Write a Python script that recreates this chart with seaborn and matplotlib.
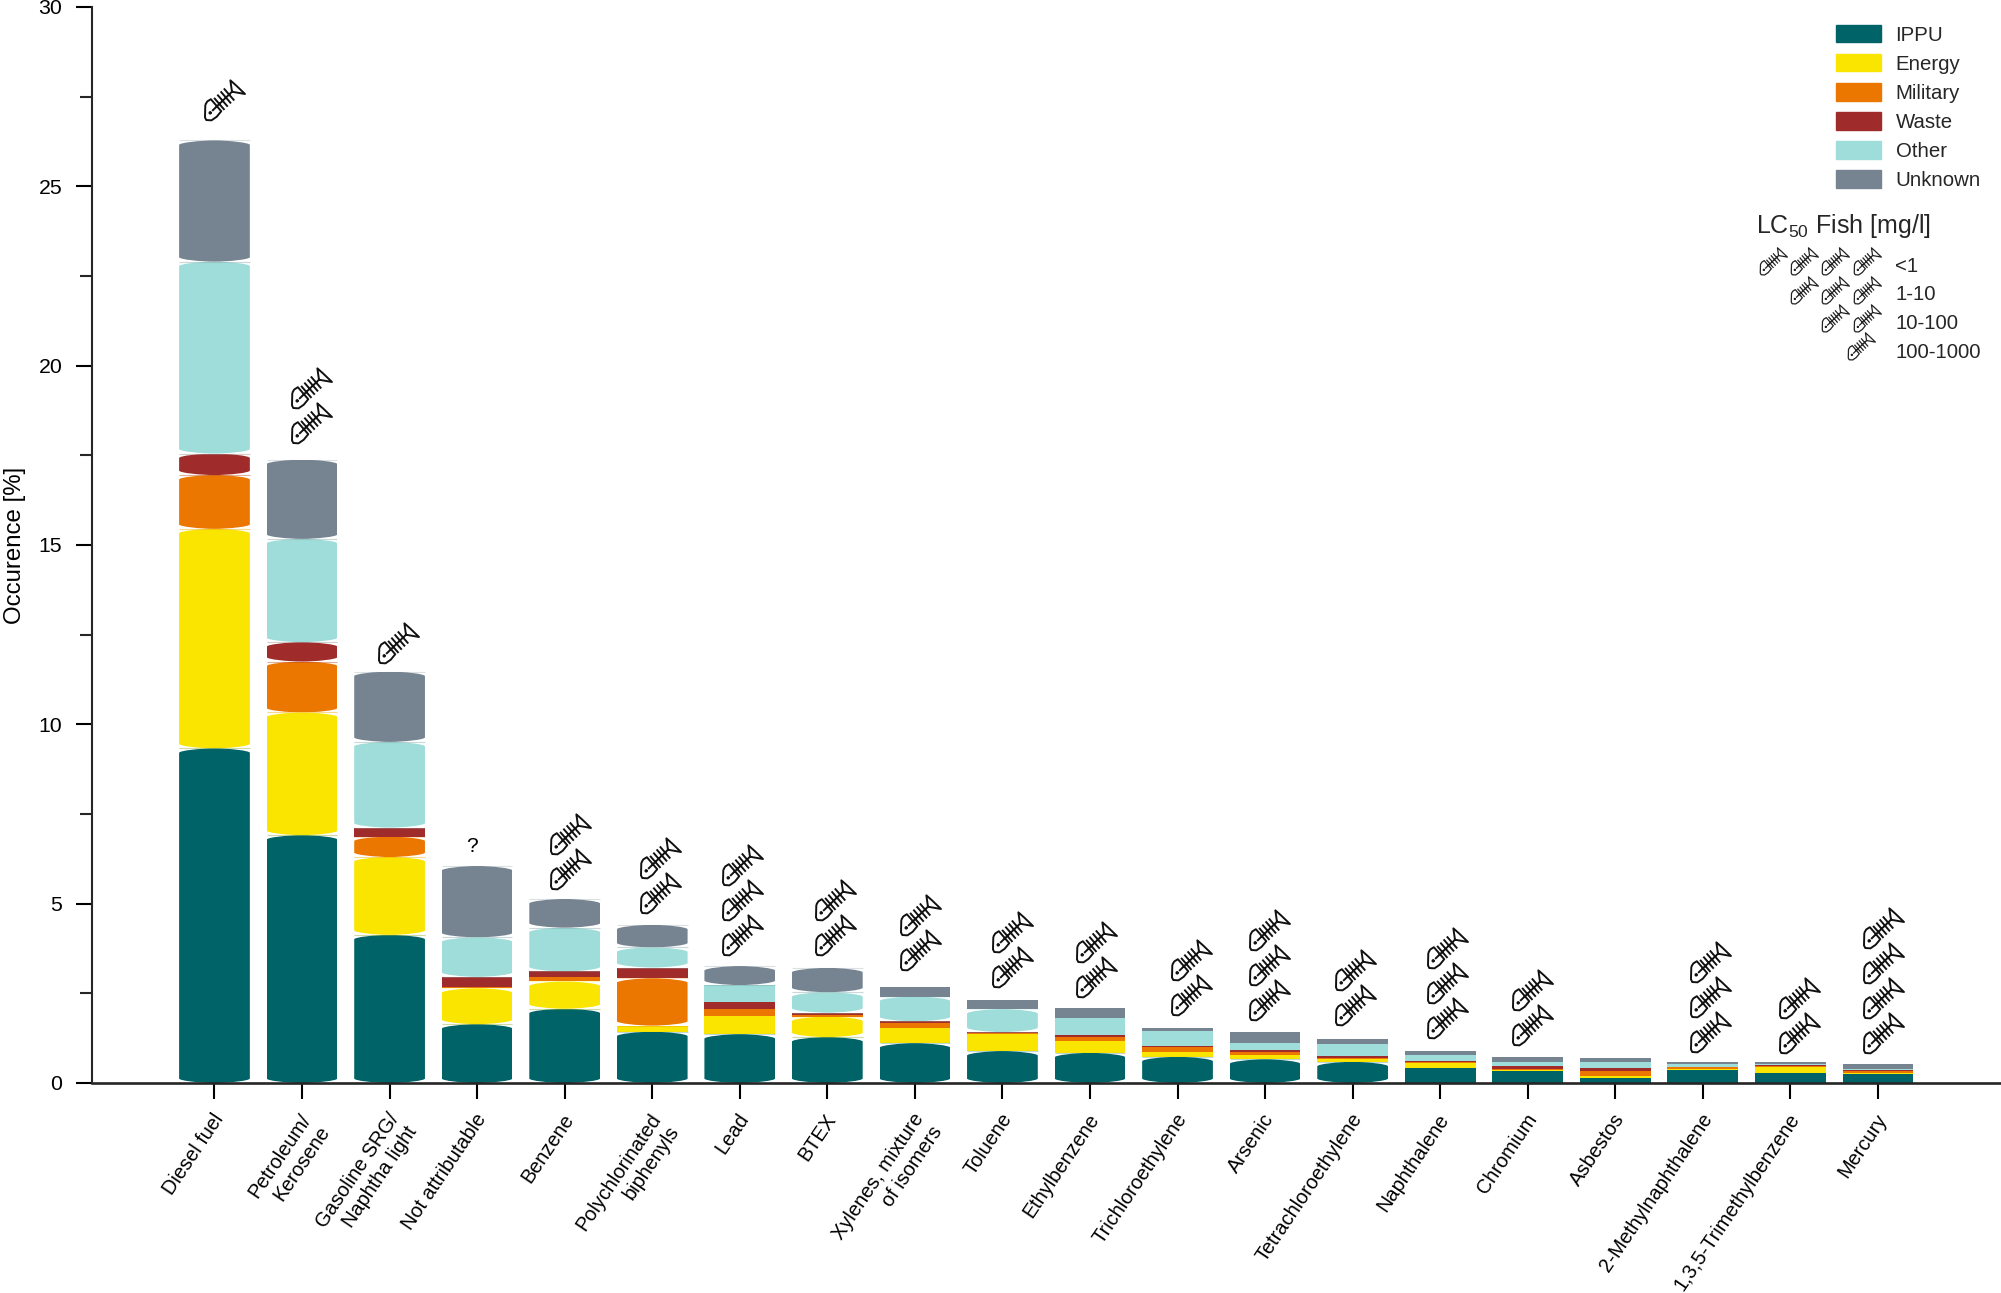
import matplotlib
matplotlib.use('Agg')
import matplotlib.patches as mpatches
import matplotlib.pyplot as plt
import numpy as np
import seaborn as sns
from matplotlib.path import Path
from matplotlib.transforms import ScaledTranslation

sns.set_theme(style='ticks')
plt.rcParams['font.family'] = 'Liberation Sans'
plt.rcParams['mathtext.fontset'] = 'custom'
plt.rcParams['mathtext.rm'] = 'Liberation Sans'
plt.rcParams['mathtext.default'] = 'rm'

#######################################################################
# data
#######################################################################

categories = ['Diesel fuel', 'Petroleum/\nKerosene', 'Gasoline SRG/\nNaphtha light',
              'Not attributable', 'Benzene', 'Polychlorinated\nbiphenyls', 'Lead', 'BTEX',
              'Xylenes, mixture\nof isomers', 'Toluene', 'Ethylbenzene', 'Trichloroethylene',
              'Arsenic', 'Tetrachloroethylene', 'Naphthalene', 'Chromium', 'Asbestos',
              '2-Methylnaphthalene', '1,3,5-Trimethylbenzene', 'Mercury']

ippu = [9.33, 6.91, 4.13, 1.64, 2.07, 1.43, 1.36, 1.28, 1.11, 0.89,
        0.84, 0.73, 0.66, 0.59, 0.41, 0.33, 0.15, 0.36, 0.27, 0.24]
energy = [6.12, 3.42, 2.17, 1.00, 0.76, 0.17, 0.50, 0.57, 0.43, 0.48,
          0.32, 0.14, 0.12, 0.07, 0.14, 0.04, 0.04, 0.03, 0.17, 0.03]
military = [1.50, 1.42, 0.57, 0.03, 0.12, 1.32, 0.19, 0.05, 0.14, 0.02,
            0.11, 0.12, 0.08, 0.05, 0.03, 0.03, 0.15, 0.05, 0.04, 0.06]
waste = [0.60, 0.54, 0.25, 0.29, 0.16, 0.30, 0.22, 0.06, 0.04, 0.03,
         0.06, 0.04, 0.07, 0.03, 0.03, 0.08, 0.09, 0.02, 0.01, 0.03]
other = [5.35, 2.88, 2.39, 1.10, 1.22, 0.56, 0.46, 0.57, 0.69, 0.64,
         0.48, 0.41, 0.19, 0.35, 0.17, 0.11, 0.15, 0.06, 0.03, 0.03]
unknown = [3.38, 2.21, 1.96, 1.99, 0.80, 0.63, 0.53, 0.68, 0.27, 0.26,
           0.27, 0.10, 0.29, 0.15, 0.12, 0.14, 0.11, 0.06, 0.06, 0.13]

source_names = ['IPPU', 'Energy', 'Military', 'Waste', 'Other', 'Unknown']
source_colors = ['#006367', '#F9E500', '#EC7700', '#A02B2B', '#9EDDD9', '#768491']

# number of fish per bar, 0 = none
fish_count = [1, 2, 1, 0, 2, 2, 3, 2, 2, 2, 2, 2, 3, 2, 3, 2, 0, 3, 2, 4]
# height of the lowest fish and its sideways shift from the tick
fish_y = [27.4, 18.39, 12.28, 0, 5.97, 5.30, 4.13, 4.13, 3.71, 3.24,
          2.96, 2.46, 2.32, 2.18, 1.81, 1.62, 0, 1.42, 1.40, 1.40]
fish_dx = [0.11, 0.10, 0.10, 0, 0.06, 0.09, 0.03, 0.09, 0.06, 0.11,
           0.07, 0.15, 0.05, 0.03, 0.08, 0.05, 0, 0.08, 0.10, 0.06]

lc50_labels = ['<1', '1-10', '10-100', '100-1000']

#######################################################################
# fish skeleton marker, head bottom left and tail top right
#######################################################################

fish_parts = [
    # head
    [(-59, -13), (-60, -52), (-56, -60), (-40, -61), (-24, -50), (-10, -33), (-42, 4),
     (-53, -3), (-59, -13)],
    # tail
    [(23, 27), (18, 62), (36, 46), (63, 20), (23, 27)],
    # spine
    [(-38, -32), (23, 27)],
    # ribs
    [(-32, 8), (0, -29)], [(-22, 18), (10, -19)], [(-12, 28), (20, -9)], [(-2, 37), (30, 0)],
    # eye
    [(-49, -38), (-39, -38)], [(-44, -43), (-44, -33)],
]
fish_verts = []
fish_codes = []
for part in fish_parts:
    fish_verts += part
    fish_codes += [Path.MOVETO] + [Path.LINETO] * (len(part) - 1)
fish_marker = Path(fish_verts, fish_codes)

#######################################################################
# stacked bars
#######################################################################

fig = plt.figure(figsize=(20.01, 12.93), dpi=100)
ax = fig.add_axes([92 / 2001, 1 - 1083 / 1293, 1 - 92 / 2001, 1076 / 1293])

bottom = np.zeros(len(categories))
for values, color in zip([ippu, energy, military, waste, other, unknown], source_colors):
    sns.barplot(x=categories, y=values, bottom=bottom, color=color, saturation=1,
                width=0.808, errorbar=None, linewidth=0, ax=ax)
    bottom = bottom + np.array(values)

ax.set_xlim(-1.399, 20.406)
ax.set_ylim(0, 30)

# the taller segments have domed ends, done by clipping the bar
dome = 0.125
for bar in list(ax.patches):
    x0, y0 = bar.get_x(), bar.get_y()
    w, h = bar.get_width(), bar.get_height()
    if h < 0.505:
        continue
    x1, y1, xc = x0 + w, y0 + h, x0 + w / 2
    outline = Path(
        [(x0, y1 - dome), (x0, y1 - dome / 2), (x0 + 0.3 * w, y1), (xc, y1),
         (x1 - 0.3 * w, y1), (x1, y1 - dome / 2), (x1, y1 - dome),
         (x1, y0 + dome), (x1, y0 + dome / 2), (x1 - 0.3 * w, y0), (xc, y0),
         (x0 + 0.3 * w, y0), (x0, y0 + dome / 2), (x0, y0 + dome), (x0, y1 - dome)],
        [Path.MOVETO] + [Path.CURVE4] * 6 + [Path.LINETO] + [Path.CURVE4] * 6 + [Path.CLOSEPOLY])
    bar.set_clip_path(outline, ax.transData)
    ax.hlines([y0, y1], x0, x1, color=bar.get_facecolor(), lw=0.8, alpha=0.25)

#######################################################################
# fish above the bars
#######################################################################

for i, n in enumerate(fish_count):
    for k in range(n):
        ax.plot(i + fish_dx[i], fish_y[i] + k * 0.977, ls='none', marker=fish_marker,
                ms=29.5, mfc='none', mec='#111111', mew=1.4)

ax.text(2.944, 6.58, '?', ha='center', va='center', fontsize=15, color='black')

#######################################################################
# axes
#######################################################################

ax.spines['top'].set_visible(False)
ax.spines['right'].set_visible(False)
ax.spines['left'].set_linewidth(1.5)
ax.spines['bottom'].set_linewidth(1.9)

ax.set_yticks(np.arange(0, 31, 5))
ax.set_yticks(np.arange(2.5, 30, 5), minor=True)
ax.tick_params(axis='y', which='major', length=11.5, width=1.5, labelsize=15.3, pad=10, colors='black')
ax.tick_params(axis='y', which='minor', left=True, length=8.6, width=1.5)
ax.tick_params(axis='x', length=11.5, width=1.5, labelsize=14.4, pad=8, colors='black')
ax.set_xticks(range(len(categories)))
ax.set_xticklabels(categories, rotation=56, ha='right', va='top', rotation_mode='anchor')
# labels sit a little left of the ticks
shift = ScaledTranslation(-2 / 72, 0, fig.dpi_scale_trans)
for label in ax.get_xticklabels():
    label.set_transform(label.get_transform() + shift)
ax.set_ylabel('Occurence [%]', fontsize=17.3, color='black')
ax.yaxis.set_label_coords(-0.0345, 0.5)
ax.set_xlabel('')

#######################################################################
# legends
#######################################################################

handles = [mpatches.Patch(color=c, label=n) for c, n in zip(source_colors, source_names)]
fig.legend(handles=handles, loc='upper left', bbox_to_anchor=(1836 / 2001, 1 - 25 / 1293),
           frameon=False, fontsize=14.7, handlelength=2.2, handleheight=0.93,
           handletextpad=0.72, labelspacing=0.46, borderpad=0, borderaxespad=0)

fig.text(1756 / 2001, 1 - 226 / 1293, r'LC$_{50}$ Fish [mg/l]', fontsize=18, va='center', ha='left')

fish_cols = [1773, 1804, 1835, 1867]
for row, label in enumerate(lc50_labels):
    fig.text(1895 / 2001, 1 - (266 + row * 29) / 1293, label, fontsize=14.7, va='center', ha='left')
    for col in fish_cols[row:]:
        cx = col if row < 3 else 1861
        cy = 261 + row * 28.5
        fig.add_artist(plt.Line2D([cx / 2001], [1 - cy / 1293], transform=fig.transFigure,
                                  ls='none', marker=fish_marker, ms=20, mfc='none',
                                  mec='#222222', mew=0.9))

fig.savefig('out.png', dpi=100)
